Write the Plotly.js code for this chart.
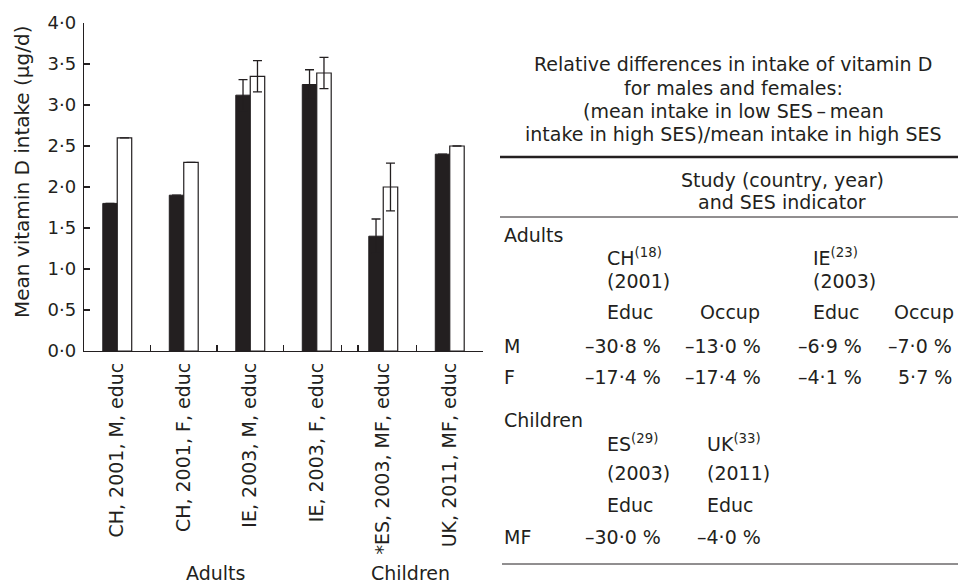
<!DOCTYPE html>
<html>
<head>
<meta charset="utf-8">
<script src="https://cdn.plot.ly/plotly-3.0.1.min.js"></script>
<style>html,body{margin:0;padding:0;background:#fff;}#chart{width:958px;height:586px;}</style>
</head>
<body>
<div id="chart"></div>
<script>
// ---- data ----
var categories = ['CH, 2001, M, educ', 'CH, 2001, F, educ', 'IE, 2003, M, educ', 'IE, 2003, F, educ', '*ES, 2003, MF, educ', 'UK, 2011, MF, educ'];
var lowSES = [1.8, 1.9, 3.12, 3.25, 1.4, 2.4];
var highSES = [2.6, 2.3, 3.35, 3.39, 2.0, 2.5];
var lowErr = [0, 0, 0.19, 0.18, 0.21, 0];
var highErr = [0, 0, 0.19, 0.19, 0.29, 0];
var yTickVals = [0, 0.5, 1, 1.5, 2, 2.5, 3, 3.5, 4];
var yTickText = ['0·0', '0·5', '1·0', '1·5', '2·0', '2·5', '3·0', '3·5', '4·0'];
var groupNames = ['Adults', 'Children'];
var yTitle = 'Mean vitamin D intake (µg/d)';

var titleLines = ['Relative differences in intake of vitamin D', 'for males and females:', '(mean intake in low SES\u2009–\u2009mean', 'intake in high SES)/mean intake in high SES'];
var headerLines = ['Study (country, year)', 'and SES indicator'];
var adultStudies = ['CH<sup>(18)</sup>', 'IE<sup>(23)</sup>'];
var adultYears = ['(2001)', '(2003)'];
var adultIndicators = ['Educ', 'Occup', 'Educ', 'Occup'];
var adultRowLabels = ['M', 'F'];
var adultM = ['–30·8 %', '–13·0 %', '–6·9 %', '–7·0 %'];
var adultF = ['–17·4 %', '–17·4 %', '–4·1 %', '5·7 %'];
var childStudies = ['ES<sup>(29)</sup>', 'UK<sup>(33)</sup>'];
var childYears = ['(2003)', '(2011)'];
var childIndicators = ['Educ', 'Educ'];
var childRowLabels = ['MF'];
var childMF = ['–30·0 %', '–4·0 %'];

// ---- layout helpers ----
var INK = '#231f20';
var FONT = 'DejaVu Sans';
var L = 84, R = 483, T = 23, B = 351;
function px(X) { return (X - L) / (R - L); }
function py(Y) { return (B - Y) / (B - T); }
var idx = categories.map(function (c, i) { return i; });

var traces = [
  {type: 'bar', x: idx, y: lowSES, name: 'low SES',
   marker: {color: INK, line: {color: INK, width: 1}},
   error_y: {type: 'data', array: lowErr, visible: true, color: INK, thickness: 1.3, width: 4.5}},
  {type: 'bar', x: idx, y: highSES, name: 'high SES',
   marker: {color: '#ffffff', line: {color: INK, width: 1.2}},
   error_y: {type: 'data', array: highErr, visible: true, color: INK, thickness: 1.3, width: 4.5}}
];

var ann = [];
function addText(text, X, Y, anchor, size, extra) {
  var a = {text: text, x: px(X), y: py(Y), xref: 'paper', yref: 'paper', xanchor: anchor, yanchor: 'middle',
           showarrow: false, font: {family: FONT, size: size || 19, color: INK}};
  if (extra) for (var k in extra) a[k] = extra[k];
  ann.push(a);
}
// y title
addText(yTitle, 22, 172, 'center', 20, {textangle: -90});
// group labels
addText(groupNames[0], 215, 586, 'center', 19, {yanchor: 'bottom'});
addText(groupNames[1], 410, 586, 'center', 19, {yanchor: 'bottom'});
// table title
var titleY = [64, 88, 111, 134];
titleLines.forEach(function (t, i) { addText(t, 733, titleY[i], 'center', 19); });
var headY = [180, 202];
headerLines.forEach(function (t, i) { addText(t, 782, headY[i], 'center', 19); });
// adults block
var colLeft = [605, 700, 811, 892];
var colRight = [663, 763, 864, 954];
var labelX = 502;
addText(groupNames[0], labelX, 235, 'left', 19);
addText(adultStudies[0], colLeft[0], 257, 'left', 19);
addText(adultStudies[1], colLeft[2], 257, 'left', 19);
addText(adultYears[0], colLeft[0], 281, 'left', 19);
addText(adultYears[1], colLeft[2], 281, 'left', 19);
adultIndicators.forEach(function (t, i) { addText(t, colLeft[i] - (i === 1 ? 2 : 0), 312, 'left', 19); });
addText(adultRowLabels[0], labelX, 346, 'left', 19);
addText(adultRowLabels[1], labelX, 377, 'left', 19);
adultM.forEach(function (t, i) { addText(t, colRight[i], 346, 'right', 19); });
adultF.forEach(function (t, i) { addText(t, colRight[i], 377, 'right', 19); });
// children block
addText(groupNames[1], labelX, 420, 'left', 19);
var childCol = [605, 705];
childStudies.forEach(function (t, i) { addText(t, childCol[i], 443, 'left', 19); });
childYears.forEach(function (t, i) { addText(t, childCol[i], 473, 'left', 19); });
childIndicators.forEach(function (t, i) { addText(t, childCol[i], 505, 'left', 19); });
addText(childRowLabels[0], labelX, 537, 'left', 19);
childMF.forEach(function (t, i) { addText(t, colRight[i], 537, 'right', 19); });

var shapes = [
  {type: 'line', xref: 'paper', yref: 'paper', x0: px(500), x1: px(960), y0: py(157), y1: py(157), line: {color: INK, width: 2.6}},
  {type: 'line', xref: 'paper', yref: 'paper', x0: px(500), x1: px(960), y0: py(217), y1: py(217), line: {color: INK, width: 1}},
  {type: 'line', xref: 'paper', yref: 'paper', x0: px(502), x1: px(960), y0: py(564), y1: py(564), line: {color: INK, width: 1}}
];

var layout = {
  width: 958, height: 586,
  margin: {l: L, r: 958 - R, t: T, b: 586 - B, pad: 0},
  paper_bgcolor: '#ffffff', plot_bgcolor: '#ffffff',
  font: {family: FONT, color: INK, size: 18},
  showlegend: false,
  barmode: 'group', bargap: 0.565, bargroupgap: 0,
  xaxis: {range: [-0.5, 5.5], tickvals: idx, ticktext: categories, tickangle: -90, ticks: '',
          showline: true, linecolor: INK, linewidth: 1.2, showgrid: false, zeroline: false,
          tickfont: {family: FONT, size: 19, color: INK}, ticklabelstandoff: 3, fixedrange: true},
  xaxis2: {overlaying: 'x', anchor: 'y', side: 'bottom', range: [-0.5, 5.5],
           tickvals: [0.5, 1.5, 2.5, 3.37, 3.62, 4.5, 5.5], showticklabels: false,
           ticks: 'inside', ticklen: 6, tickwidth: 1.2, tickcolor: INK,
           showline: false, showgrid: false, zeroline: false},
  yaxis: {range: [0, 4], tickvals: yTickVals, ticktext: yTickText, ticks: 'inside', ticklen: 6, tickwidth: 1.2,
          tickcolor: INK, showline: true, linecolor: INK, linewidth: 1.2, showgrid: false, zeroline: false,
          tickfont: {family: FONT, size: 18, color: INK}, ticklabelstandoff: 3, fixedrange: true},
  annotations: ann,
  shapes: shapes
};
// invisible helper trace so the tick-mark axis (xaxis2) is drawn
traces.push({type: 'scatter', x: [0], y: [0], xaxis: 'x2', yaxis: 'y', mode: 'markers', marker: {opacity: 0}, hoverinfo: 'skip'});

Plotly.newPlot('chart', traces, layout, {displayModeBar: false, staticPlot: true});
</script>
</body>
</html>
